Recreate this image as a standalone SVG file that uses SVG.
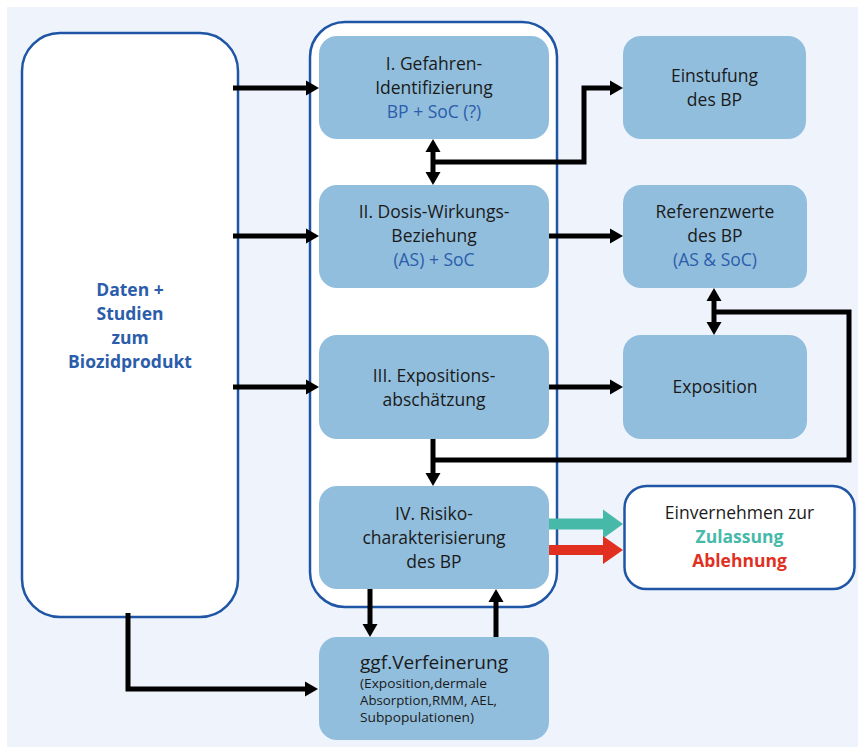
<svg xmlns="http://www.w3.org/2000/svg" width="858" height="749" viewBox="0 0 858 749">
<style>
.box{fill:#92bedd;}
.t{font-family:"Open Sans","Noto Sans","Liberation Sans",sans-serif;font-size:17.5px;fill:#1a1a1a;text-anchor:middle;}
.b{fill:#2b5dab;}
.bold{font-weight:bold;}
.ln{fill:none;stroke:#000;stroke-width:5;stroke-linejoin:miter;}
</style>
<defs>
<marker id="ah" markerUnits="userSpaceOnUse" markerWidth="14" markerHeight="16" refX="3" refY="7.5" orient="auto-start-reverse" overflow="visible">
<path d="M0,0 L13,7.5 L0,15 z" fill="#000"/>
</marker>
</defs>
<rect x="0" y="0" width="858" height="749" fill="#ffffff"/>
<rect x="7" y="7" width="851" height="740" fill="#eef3fc"/>

<g id="daten">
<rect x="22" y="33" width="216" height="584" rx="38" fill="#fff" stroke="#1f55a5" stroke-width="2.5"/>
<text class="t b bold" x="130" y="296">Daten +</text>
<text class="t b bold" x="130" y="320">Studien</text>
<text class="t b bold" x="130" y="344">zum</text>
<text class="t b bold" x="130" y="368">Biozidprodukt</text>
</g>

<g id="container">
<rect x="310" y="22" width="247" height="585" rx="35" fill="#fff" stroke="#1f55a5" stroke-width="2.5"/>
</g>

<g id="n1">
<rect class="box" x="319" y="36" width="230" height="103" rx="18"/>
<text class="t" x="434" y="70">I. Gefahren-</text>
<text class="t" x="434" y="94">Identifizierung</text>
<text class="t b" x="434" y="118">BP + SoC (?)</text>
</g>
<g id="n2">
<rect class="box" x="319" y="185" width="230" height="103" rx="18"/>
<text class="t" x="434" y="218">II. Dosis-Wirkungs-</text>
<text class="t" x="434" y="242">Beziehung</text>
<text class="t b" x="434" y="266">(AS) + SoC</text>
</g>
<g id="n3">
<rect class="box" x="319" y="335" width="230" height="104" rx="18"/>
<text class="t" x="434" y="382">III. Expositions-</text>
<text class="t" x="434" y="406">abschätzung</text>
</g>
<g id="n4">
<rect class="box" x="319" y="486" width="230" height="103" rx="18"/>
<text class="t" x="434" y="520">IV. Risiko-</text>
<text class="t" x="434" y="544">charakterisierung</text>
<text class="t" x="434" y="568">des BP</text>
</g>
<g id="n5">
<rect class="box" x="319" y="637" width="230" height="103" rx="18"/>
<text class="t" x="360" y="669" style="text-anchor:start;font-size:19px" textLength="148" lengthAdjust="spacingAndGlyphs">ggf.Verfeinerung</text>
<text class="t" x="360" y="688" style="text-anchor:start;font-size:13px" textLength="127" lengthAdjust="spacingAndGlyphs">(Exposition,dermale</text>
<text class="t" x="360" y="705" style="text-anchor:start;font-size:13px" textLength="137" lengthAdjust="spacingAndGlyphs">Absorption,RMM, AEL,</text>
<text class="t" x="360" y="722" style="text-anchor:start;font-size:13px" textLength="114" lengthAdjust="spacingAndGlyphs">Subpopulationen)</text>
</g>

<g id="einstufung">
<rect class="box" x="623" y="36" width="183" height="103" rx="18"/>
<text class="t" x="714.5" y="82">Einstufung</text>
<text class="t" x="714.5" y="106">des BP</text>
</g>
<g id="referenz">
<rect class="box" x="623" y="185" width="184" height="103" rx="18"/>
<text class="t" x="715" y="218">Referenzwerte</text>
<text class="t" x="715" y="242">des BP</text>
<text class="t b" x="715" y="266">(AS &amp; SoC)</text>
</g>
<g id="exposition">
<rect class="box" x="623" y="335" width="184" height="104" rx="18"/>
<text class="t" x="715" y="393">Exposition</text>
</g>
<g id="einvernehmen">
<rect x="624.5" y="486" width="230" height="103" rx="22" fill="#fff" stroke="#1f55a5" stroke-width="2.5"/>
<text class="t" x="739.5" y="519">Einvernehmen zur</text>
<text class="t bold" x="739.5" y="543" style="fill:#46b9a9">Zulassung</text>
<text class="t bold" x="739.5" y="567" style="fill:#e1301f">Ablehnung</text>
</g>

<g id="connectors">
<path class="ln" d="M233,88 H309" marker-end="url(#ah)"/>
<path class="ln" d="M233,236 H309" marker-end="url(#ah)"/>
<path class="ln" d="M233,387 H309" marker-end="url(#ah)"/>
<path class="ln" d="M433,149 V175" marker-start="url(#ah)" marker-end="url(#ah)"/>
<path class="ln" d="M433,162 H584 V88 H613" marker-end="url(#ah)"/>
<path class="ln" d="M549,236 H613" marker-end="url(#ah)"/>
<path class="ln" d="M549,387 H613" marker-end="url(#ah)"/>
<path class="ln" d="M714,298 V325" marker-start="url(#ah)" marker-end="url(#ah)"/>
<path class="ln" d="M714,312 H849 V460 H433"/>
<path class="ln" d="M433,439 V476" marker-end="url(#ah)"/>
<path class="ln" d="M370,589 V627" marker-end="url(#ah)"/>
<path class="ln" d="M496,637 V599" marker-end="url(#ah)"/>
<path class="ln" d="M128,613 V689 H308" marker-end="url(#ah)"/>
<path d="M549,518.5 H603 V509.5 L623,524 L603,538.5 V529.5 H549 z" fill="#46b9a9"/>
<path d="M549,545 H603 V536 L623,550 L603,564 V555 H549 z" fill="#e1301f"/>
</g>
</svg>
